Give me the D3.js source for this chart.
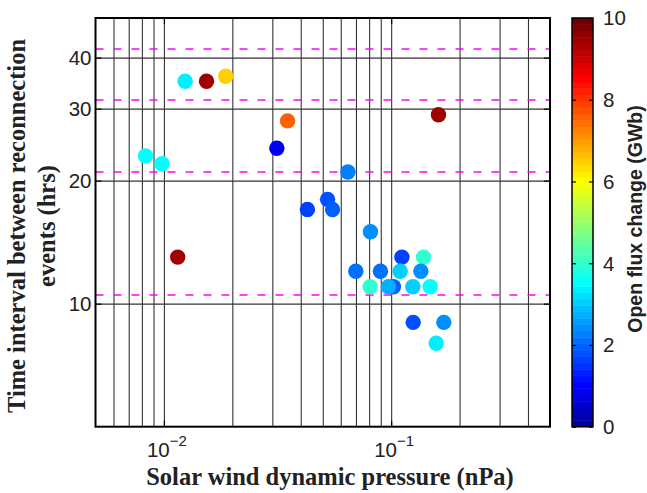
<!DOCTYPE html>
<html>
<head>
<meta charset="utf-8">
<script src="https://cdn.jsdelivr.net/npm/d3@7"></script>
<style>
body { margin: 0; background: #fff; }
</style>
</head>
<body>
<svg id="svg"></svg>
<script>
var width = 647, height = 493;
var plot = {left: 95.5, right: 550, top: 18, bottom: 426.7};
var cbar = {left: 572, right: 593};

// solar wind pressure (nPa), interval (hrs), open flux change (GWb)
var pressure = [0.0124, 0.0154, 0.0187, 0.0350, 0.0314, 0.0083, 0.0098, 0.0645, 0.0428, 0.0525,
	0.0552, 0.0115, 0.1615, 0.0811, 0.1115, 0.1388, 0.0699, 0.0897, 0.1095, 0.1351,
	0.0808, 0.1023, 0.0973, 0.1246, 0.1485, 0.1250, 0.1705, 0.1578];
var interval = [35, 35, 36, 28, 24, 23, 22, 21, 17, 18,
	17, 13, 29, 15, 13, 13, 12, 12, 12, 12,
	11, 11, 11, 11, 11, 9, 9, 8];
var fluxChange = [3.3, 9.5, 6.5, 7.6, 0.9, 3.5, 3.5, 2.3, 1.6, 1.75,
	1.9, 9.5, 9.5, 2.45, 1.6, 4.0, 2.1, 2.1, 3.1, 2.45,
	4.0, 1.9, 2.8, 3.1, 3.5, 1.75, 2.45, 3.3];

var periodLines = [10.5, 21, 31.5, 42];
var yTicks = [10, 20, 30, 40];
var xMajor = [0.01, 0.1];
var xGrid = [0.006, 0.007, 0.008, 0.009, 0.01, 0.02, 0.03, 0.04, 0.05, 0.06, 0.07, 0.08, 0.09,
	0.1, 0.2, 0.3, 0.4];
var cbarTicks = [0, 2, 4, 6, 8, 10];

// matlab jet(64)
function jetMap(m)
{
	var n = Math.ceil(m / 4), u = [], cmap = [], i;
	for (i = 1; i <= n; i++) u.push(i / n);
	for (i = 1; i < n; i++) u.push(1);
	for (i = n; i >= 1; i--) u.push(i / n);
	for (i = 0; i < m; i++) cmap.push([0, 0, 0]);
	var g0 = Math.ceil(n / 2) - (m % 4 == 1 ? 1 : 0) - 1;
	u.forEach(function(v, k)
	{
		var gi = g0 + k, ri = gi + n, bi = gi - n;
		if (ri >= 0 && ri < m) cmap[ri][0] = v;
		if (gi >= 0 && gi < m) cmap[gi][1] = v;
		if (bi >= 0 && bi < m) cmap[bi][2] = v;
	});
	return cmap.map(function(c) { return d3.rgb(c[0] * 255, c[1] * 255, c[2] * 255).formatHex(); });
}
var jet = jetMap(64);
function color(v)
{
	var i = Math.floor(v / 10 * 64);
	return jet[Math.max(0, Math.min(63, i))];
}

var svg = d3.select("#svg")
	.attr("width", width)
	.attr("height", height)
	.style("font-family", "'Liberation Sans', Arial, sans-serif");

var x = d3.scaleLog()
	.domain([0.005, 0.5])
	.range([plot.left, plot.right]);
var y = d3.scaleLog()
	.domain([5, 50])
	.range([plot.bottom, plot.top]);

// grid
svg.append("g")
	.attr("transform", "translate(0," + plot.bottom + ")")
	.call(d3.axisBottom(x).tickValues(xGrid).tickSize(-(plot.bottom - plot.top)).tickFormat(""))
	.call(function(g) { g.select(".domain").remove(); })
	.selectAll("line")
	.attr("stroke", "#333")
	.attr("stroke-width", 1.1);

svg.append("g")
	.attr("transform", "translate(" + plot.left + ",0)")
	.call(d3.axisLeft(y).tickValues(yTicks).tickSize(-(plot.right - plot.left)).tickFormat(""))
	.call(function(g) { g.select(".domain").remove(); })
	.selectAll("line")
	.attr("stroke", "#333")
	.attr("stroke-width", 1.1);

// 10.5 h multiples
svg.append("g")
	.selectAll("line")
	.data(periodLines)
	.enter()
	.append("line")
	.attr("x1", plot.left)
	.attr("x2", plot.right)
	.attr("y1", function(d) { return y(d); })
	.attr("y2", function(d) { return y(d); })
	.attr("stroke", "#ff00ff")
	.attr("stroke-width", 1.5)
	.attr("stroke-dasharray", "8,10");

// points
svg.append("g")
	.selectAll("circle")
	.data(pressure.map(function(p, i) { return {p: p, t: interval[i], f: fluxChange[i]}; }))
	.enter()
	.append("circle")
	.attr("cx", function(d) { return x(d.p); })
	.attr("cy", function(d) { return y(d.t); })
	.attr("r", 7.7)
	.attr("fill", function(d) { return color(d.f); });

// tick marks on all four sides
var tickStyle = function(g)
{
	g.select(".domain").remove();
	g.selectAll("line").attr("stroke", "#000").attr("stroke-width", 1.2);
	g.selectAll("text").remove();
};
svg.append("g").attr("transform", "translate(" + plot.left + ",0)")
	.call(d3.axisLeft(y).tickValues(yTicks).tickSize(-6)).call(tickStyle);
svg.append("g").attr("transform", "translate(" + plot.right + ",0)")
	.call(d3.axisRight(y).tickValues(yTicks).tickSize(-6)).call(tickStyle);
svg.append("g").attr("transform", "translate(0," + plot.bottom + ")")
	.call(d3.axisBottom(x).tickValues(xMajor).tickSize(-6)).call(tickStyle);
svg.append("g").attr("transform", "translate(0," + plot.top + ")")
	.call(d3.axisTop(x).tickValues(xMajor).tickSize(-6)).call(tickStyle);

// frame
svg.append("rect")
	.attr("x", plot.left)
	.attr("y", plot.top)
	.attr("width", plot.right - plot.left)
	.attr("height", plot.bottom - plot.top)
	.attr("fill", "none")
	.attr("stroke", "#000")
	.attr("stroke-width", 2);

// tick labels
svg.append("g")
	.selectAll("text")
	.data(yTicks)
	.enter()
	.append("text")
	.attr("x", plot.left - 4)
	.attr("y", function(d) { return y(d); })
	.attr("dy", "0.36em")
	.attr("text-anchor", "end")
	.attr("font-size", 20.5)
	.attr("fill", "#222")
	.text(function(d) { return d; });

var xl = svg.append("g")
	.selectAll("text")
	.data(xMajor)
	.enter()
	.append("text")
	.attr("x", function(d) { return x(d) - 17; })
	.attr("y", 457)
	.attr("font-size", 20.5)
	.attr("fill", "#222");
xl.append("tspan").text("10");
xl.append("tspan")
	.attr("dy", -11)
	.attr("font-size", 15)
	.text(function(d) { return "\u2212" + Math.round(-Math.log10(d)); });

// axis titles
svg.append("text")
	.attr("x", 330)
	.attr("y", 485)
	.attr("text-anchor", "middle")
	.attr("font-family", "'Liberation Serif', 'Times New Roman', serif")
	.attr("font-weight", "bold")
	.attr("font-size", 24.5)
	.attr("fill", "#222")
	.text("Solar wind dynamic pressure (nPa)");

var ylab = svg.append("text")
	.attr("transform", "translate(0,226) rotate(-90)")
	.attr("text-anchor", "middle")
	.attr("font-family", "'Liberation Serif', 'Times New Roman', serif")
	.attr("font-weight", "bold")
	.attr("font-size", 24.5)
	.attr("fill", "#222");
ylab.append("tspan").attr("x", 0).attr("y", 25).text("Time interval between reconnection");
ylab.append("tspan").attr("x", 0).attr("y", 55).text("events (hrs)");

// colorbar
var c = d3.scaleLinear()
	.domain([0, 10])
	.range([plot.bottom, plot.top]);

svg.append("g")
	.selectAll("rect")
	.data(jet)
	.enter()
	.append("rect")
	.attr("x", cbar.left)
	.attr("width", cbar.right - cbar.left)
	.attr("y", function(d, i) { return c((i + 1) * 10 / 64); })
	.attr("height", function(d, i) { return c(i * 10 / 64) - c((i + 1) * 10 / 64) + 0.5; })
	.attr("fill", function(d) { return d; });

svg.append("g").attr("transform", "translate(" + cbar.left + ",0)")
	.call(d3.axisLeft(c).tickValues(cbarTicks).tickSize(-4)).call(tickStyle);
svg.append("g").attr("transform", "translate(" + cbar.right + ",0)")
	.call(d3.axisRight(c).tickValues(cbarTicks).tickSize(-4)).call(tickStyle);

svg.append("rect")
	.attr("x", cbar.left)
	.attr("y", plot.top)
	.attr("width", cbar.right - cbar.left)
	.attr("height", plot.bottom - plot.top)
	.attr("fill", "none")
	.attr("stroke", "#000")
	.attr("stroke-width", 1.5);

svg.append("g")
	.selectAll("text")
	.data(cbarTicks)
	.enter()
	.append("text")
	.attr("x", 603)
	.attr("y", function(d) { return c(d); })
	.attr("dy", "0.36em")
	.attr("font-size", 20.5)
	.attr("fill", "#222")
	.text(function(d) { return d; });

svg.append("text")
	.attr("transform", "translate(642,219) rotate(-90)")
	.attr("text-anchor", "middle")
	.attr("font-weight", "bold")
	.attr("font-size", 19.5)
	.attr("fill", "#222")
	.text("Open flux change (GWb)");
</script>
</body>
</html>
